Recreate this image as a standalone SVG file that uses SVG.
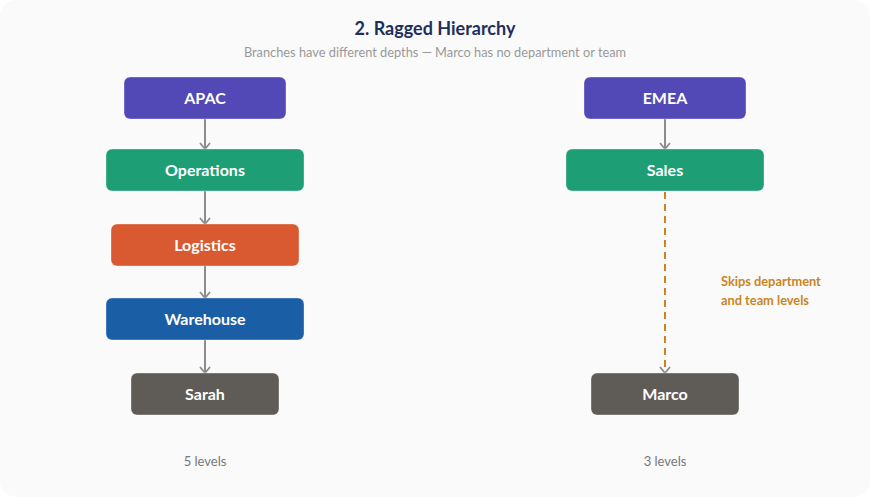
<svg xmlns="http://www.w3.org/2000/svg" width="870" height="497" viewBox="0 0 870 497">
<defs>
<style>
.node rect{stroke:#ffffff;stroke-opacity:0.35;stroke-width:1}
.lbl{font-family:Lato,"Noto Sans","Liberation Sans",sans-serif;font-weight:700;font-size:16px;fill:#ffffff;text-anchor:middle}
.edge{stroke:#8c8c8c;stroke-width:2;fill:none}
.dash{stroke:#c98525;stroke-width:2;fill:none;stroke-dasharray:7 5}
.note{font-family:Lato,"Noto Sans","Liberation Sans",sans-serif;font-size:13px;fill:#777777;text-anchor:middle}
.skip{font-family:Lato,"Noto Sans","Liberation Sans",sans-serif;font-weight:700;font-size:12.8px;fill:#c98525}
</style>
<marker id="arr" viewBox="0 0 12 12" refX="11" refY="6" markerWidth="12" markerHeight="12" markerUnits="userSpaceOnUse" orient="auto">
<path d="M5,1 L11,6 L5,11" fill="none" stroke="#8c8c8c" stroke-width="1.8"/>
</marker>
</defs>
<rect x="0" y="0" width="870" height="497" rx="16" fill="#fafafa"/>
<text x="435" y="35" text-anchor="middle" font-family="Lato,'Noto Sans','Liberation Sans',sans-serif" font-weight="700" font-size="18" fill="#1f2f5c">2. Ragged Hierarchy</text>
<text x="435" y="57" text-anchor="middle" font-family="Lato,'Noto Sans','Liberation Sans',sans-serif" font-size="12.8" fill="#999999">Branches have different depths — Marco has no department or team</text>
<g id="connectors">
<line class="edge" x1="205" y1="119" x2="205" y2="149" marker-end="url(#arr)"/>
<line class="edge" x1="205" y1="191" x2="205" y2="224" marker-end="url(#arr)"/>
<line class="edge" x1="205" y1="266" x2="205" y2="298" marker-end="url(#arr)"/>
<line class="edge" x1="205" y1="340" x2="205" y2="373" marker-end="url(#arr)"/>
<line class="edge" x1="665" y1="119" x2="665" y2="149" marker-end="url(#arr)"/>
<line class="dash" x1="665" y1="192" x2="665" y2="372"/>
<path d="M660,367 L665,373 L670,367" fill="none" stroke="#8c8c8c" stroke-width="1.8"/>
<text class="skip" x="721" y="286">Skips department</text>
<text class="skip" x="721" y="305">and team levels</text>
</g>
<g id="apac" class="node"><rect x="124" y="77" width="162" height="42" rx="6" fill="#5249b6"/><text class="lbl" x="205" y="104">APAC</text></g>
<g id="operations" class="node"><rect x="106" y="149" width="198" height="42" rx="6" fill="#1e9e75"/><text class="lbl" x="205" y="176">Operations</text></g>
<g id="logistics" class="node"><rect x="111" y="224" width="188" height="42" rx="6" fill="#d95a30"/><text class="lbl" x="205" y="251">Logistics</text></g>
<g id="warehouse" class="node"><rect x="106" y="298" width="198" height="42" rx="6" fill="#1a5ea6"/><text class="lbl" x="205" y="325">Warehouse</text></g>
<g id="sarah" class="node"><rect x="131" y="373" width="148" height="42" rx="6" fill="#5f5c58"/><text class="lbl" x="205" y="400">Sarah</text></g>
<g id="emea" class="node"><rect x="584" y="77" width="162" height="42" rx="6" fill="#5249b6"/><text class="lbl" x="665" y="104">EMEA</text></g>
<g id="sales" class="node"><rect x="566" y="149" width="198" height="42" rx="6" fill="#1e9e75"/><text class="lbl" x="665" y="176">Sales</text></g>
<g id="marco" class="node"><rect x="591" y="373" width="148" height="42" rx="6" fill="#5f5c58"/><text class="lbl" x="665" y="400">Marco</text></g>
<text class="note" x="205" y="466">5 levels</text>
<text class="note" x="665" y="466">3 levels</text>
</svg>
